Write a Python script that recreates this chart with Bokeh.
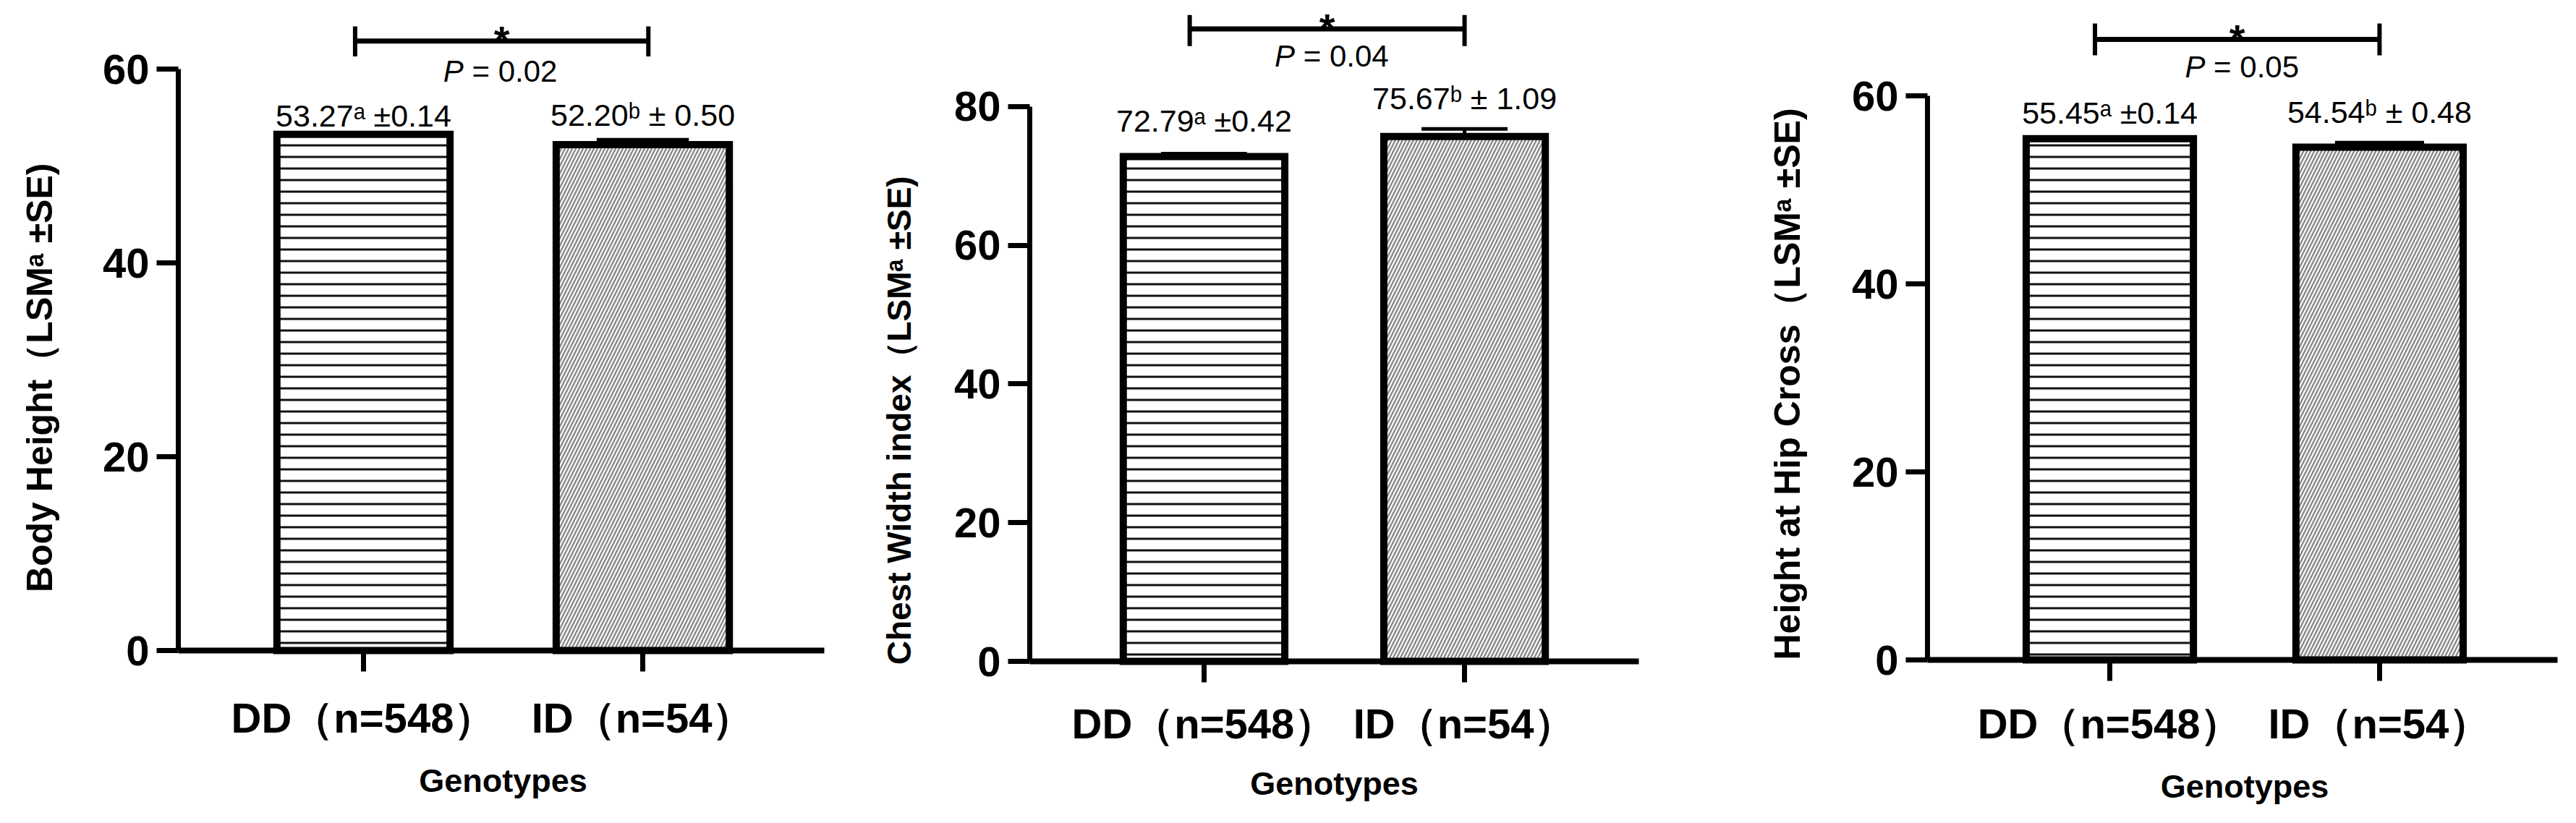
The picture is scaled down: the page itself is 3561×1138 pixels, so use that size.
import math
from bokeh.plotting import figure
from bokeh.layouts import row
from bokeh.models import Range1d, FixedTicker
from bokeh.core.properties import value
from bokeh.embed import file_html
from bokeh.resources import INLINE

# ---------------- data ----------------
genotypes = ["DD（n=548）", "ID（n=54）"]
superscripts = ["ᵃ", "ᵇ"]
x_title = "Genotypes"
trait_titles = ["Body Height（LSMᵃ ±SE)",
                "Chest Width index（LSMᵃ ±SE)",
                "Height at Hip Cross（LSMᵃ ±SE)"]
body_height_mean = [53.27, 52.20]
body_height_se = [0.14, 0.50]
chest_width_mean = [72.79, 75.67]
chest_width_se = [0.42, 1.09]
hip_cross_mean = [55.45, 54.54]
hip_cross_se = [0.14, 0.48]
p_values = ["0.02", "0.04", "0.05"]
y_ticks_body = [0, 20, 40, 60]
y_ticks_chest = [0, 20, 40, 60, 80]
y_ticks_hip = [0, 20, 40, 60]

means = [body_height_mean, chest_width_mean, hip_cross_mean]
ses = [body_height_se, chest_width_se, hip_cross_se]
y_ticks = [y_ticks_body, y_ticks_chest, y_ticks_hip]

# ---------------- layout / style ----------------
FONT = "Liberation Sans"
H = 1122
# ax_px / y0_px: pixel position of the y axis / x axis inside each figure
panels = [
    dict(w=1187, ax_px=246, y0_px=899, br=48, x0=-0.663, x1=1.650, ppu=13.4,
         ylab_px=54, ylab_start=6.0, ylab_fs=50,
         br_y=62.9, br_lo=61.3, br_hi=64.4, br_x=(-0.03, 1.02), p_y=59.8,
         gaps=[24, 34], xlab_so=31, xtitle_px=180),
    dict(w=1183, ax_px=236, y0_px=914, br=105, x0=-0.669, x1=1.669, ppu=9.59,
         ylab_px=55, ylab_start=-0.5, ylab_fs=46,
         br_y=91.2, br_lo=88.7, br_hi=93.2, br_x=(-0.055, 1.0), p_y=87.3,
         gaps=[45, 42], xlab_so=24, xtitle_px=169),
    dict(w=1175, ax_px=294, y0_px=912, br=10, x0=-0.676, x1=1.660, ppu=13.0,
         ylab_px=100, ylab_start=0.0, ylab_fs=50,
         br_y=66.0, br_lo=64.3, br_hi=67.7, br_x=(-0.055, 1.0), p_y=63.1,
         gaps=[34, 42], xlab_so=26, xtitle_px=175),
]

hatch_styles = [
    dict(hatch_pattern="-", hatch_color="#111111", hatch_scale=16, hatch_weight=3),
    dict(hatch_pattern="/", hatch_color="#888888", hatch_scale=10, hatch_weight=2.4),
]


def txt(p, x, y, s, size, align="center", baseline="middle", style="normal", angle=0.0):
    p.text(x=[x], y=[y], text=[s], text_align=align, text_baseline=baseline, angle=angle,
           text_font=value(FONT), text_font_style=style, text_font_size=f"{size}px",
           text_color="black")


figs = []
for k in range(3):
    L = panels[k]
    ymax = max(y_ticks[k])
    ppx = (L["w"] - L["ax_px"] - L["br"]) / (L["x1"] - L["x0"])
    ppy = L["ppu"]
    x_start = L["x0"] - L["ax_px"] / ppx
    x_end = L["x1"] + L["br"] / ppx
    y_bot = -(H - L["y0_px"]) / ppy
    y_top = L["y0_px"] / ppy
    p = figure(width=L["w"], height=H, output_backend="svg", toolbar_location=None,
               x_range=Range1d(x_start, x_end), y_range=Range1d(y_bot, y_top),
               min_border_left=0, min_border_right=0, min_border_top=0, min_border_bottom=0)
    p.outline_line_color = None
    p.grid.visible = False
    p.background_fill_color = "white"
    p.border_fill_color = "white"

    # y axis, pinned at x0
    ya = p.yaxis[0]
    ya.fixed_location = L["x0"]
    ya.ticker = FixedTicker(ticks=y_ticks[k])
    ya.bounds = (0, ymax)
    ya.minor_tick_line_color = None
    ya.major_tick_in = 0
    ya.major_tick_out = 30
    ya.major_tick_line_width = 7
    ya.axis_line_width = 7
    ya.major_label_standoff = 10
    ya.major_label_text_font = FONT
    ya.major_label_text_font_style = "bold"
    ya.major_label_text_font_size = "58px"
    ya.major_label_text_color = "black"

    # x axis, pinned at y = 0
    xa = p.xaxis[0]
    xa.fixed_location = 0
    xa.bounds = (L["x0"], L["x1"])
    xa.ticker = FixedTicker(ticks=[0, 1])
    xa.major_label_overrides = {0: genotypes[0], 1: genotypes[1]}
    xa.minor_tick_line_color = None
    xa.major_tick_in = 0
    xa.major_tick_out = 29
    xa.major_tick_line_width = 7
    xa.axis_line_width = 8
    xa.major_label_standoff = L["xlab_so"]
    xa.major_label_text_font = FONT
    xa.major_label_text_font_style = "bold"
    xa.major_label_text_font_size = "58px"
    xa.major_label_text_color = "black"

    # axis titles
    txt(p, x_start + L["ylab_px"] / ppx, L["ylab_start"], trait_titles[k], L["ylab_fs"],
        align="left", style="bold", angle=math.pi / 2)
    txt(p, 0.5, -L["xtitle_px"] / ppy, x_title, 45, style="bold")

    m = means[k]
    s = ses[k]
    for i in range(2):
        # error bar (upper half)
        p.segment(x0=[i], y0=[m[i]], x1=[i], y1=[m[i] + s[i]], line_color="black", line_width=5)
        p.segment(x0=[i - 0.165], y0=[m[i] + s[i]], x1=[i + 0.165], y1=[m[i] + s[i]],
                  line_color="black", line_width=5)
        p.vbar(x=[i], top=[m[i]], bottom=0, width=0.62, fill_color="white",
               line_color="black", line_width=10, line_join="miter", **hatch_styles[i])
        sep = " ±" if i == 0 else " ± "
        lab = f"{m[i]:.2f}{superscripts[i]}{sep}{s[i]:.2f}"
        txt(p, i, m[i] + s[i] + L["gaps"][i] / ppy, lab, 43)

    # significance bracket
    bx0, bx1 = L["br_x"]
    p.segment(x0=[bx0], y0=[L["br_y"]], x1=[bx1], y1=[L["br_y"]], line_color="black", line_width=7)
    p.segment(x0=[bx0, bx1], y0=[L["br_lo"], L["br_lo"]], x1=[bx0, bx1], y1=[L["br_hi"], L["br_hi"]],
              line_color="black", line_width=6)
    cx = (bx0 + bx1) / 2
    txt(p, cx, L["br_y"] + 1.0 / ppy, "*", 56, style="bold")
    fs = 42
    off = fs * (0.667 - (0.667 + 3.086) / 2) / ppx
    txt(p, 0.49 + off, L["p_y"], "P", fs, align="right", style="italic")
    txt(p, 0.49 + off, L["p_y"], "\u00a0=\u00a0" + p_values[k], fs, align="left")
    figs.append(p)

layout = row(*figs, spacing=0)
open("out.html", "w").write(file_html(layout, INLINE))
